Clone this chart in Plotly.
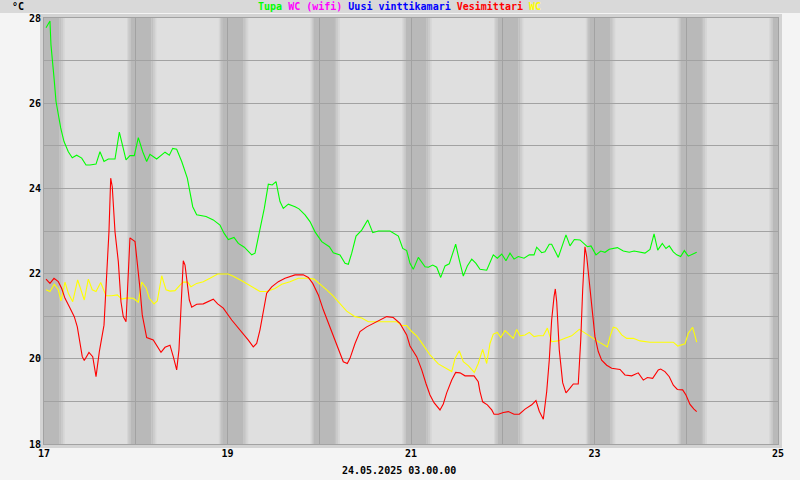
import plotly.graph_objects as go

# ---- data (day of May 2025, °C) ----
tupa_t = [17.022, 17.065, 17.076, 17.095, 17.109, 17.131, 17.156, 17.182, 17.218, 17.265, 17.308, 17.356,
          17.411, 17.458, 17.501, 17.567, 17.610, 17.654, 17.701, 17.774, 17.821, 17.858, 17.894, 17.937,
          17.984, 18.028, 18.076, 18.119, 18.155, 18.228, 18.283, 18.319, 18.366, 18.403, 18.446, 18.501,
          18.562, 18.591, 18.621, 18.664, 18.766, 18.845, 18.918, 18.962, 19.009, 19.071, 19.118, 19.183,
          19.264, 19.300, 19.354, 19.401, 19.445, 19.488, 19.529, 19.572, 19.608, 19.663, 19.736, 19.779,
          19.845, 19.899, 19.954, 20.027, 20.110, 20.153, 20.226, 20.281, 20.317, 20.354, 20.401, 20.463,
          20.528, 20.583, 20.644, 20.771, 20.862, 20.910, 20.953, 20.989, 21.025, 21.080, 21.153, 21.189,
          21.237, 21.280, 21.324, 21.371, 21.417, 21.487, 21.526, 21.570, 21.614, 21.662, 21.708, 21.752,
          21.825, 21.897, 21.941, 21.989, 22.035, 22.079, 22.123, 22.169, 22.232, 22.289, 22.341, 22.370,
          22.424, 22.460, 22.507, 22.533, 22.605, 22.653, 22.689, 22.733, 22.780, 22.842, 22.878, 22.922,
          22.962, 23.016, 23.068, 23.114, 23.161, 23.249, 23.314, 23.379, 23.431, 23.496, 23.550, 23.605,
          23.649, 23.689, 23.739, 23.779, 23.815, 23.859, 23.896, 23.939, 23.979, 24.022, 24.070, 24.114]
tupa_v = [27.77, 27.93, 27.37, 26.97, 26.60, 26.04, 25.72, 25.42, 25.10, 24.86, 24.72, 24.78,
          24.71, 24.55, 24.55, 24.57, 24.86, 24.63, 24.69, 24.69, 25.32, 25.02, 24.67, 24.77,
          24.77, 25.19, 24.86, 24.63, 24.80, 24.69, 24.78, 24.85, 24.78, 24.94, 24.92, 24.63,
          24.24, 23.88, 23.57, 23.38, 23.34, 23.26, 23.14, 22.95, 22.80, 22.85, 22.71, 22.62,
          22.44, 22.48, 23.02, 23.53, 24.10, 24.08, 24.16, 23.69, 23.53, 23.63, 23.57, 23.52,
          23.38, 23.22, 22.98, 22.75, 22.63, 22.49, 22.44, 22.24, 22.22, 22.48, 22.88, 23.02,
          23.26, 22.96, 23.00, 23.00, 22.88, 22.59, 22.54, 22.24, 22.10, 22.38, 22.16, 22.15,
          22.20, 22.15, 21.91, 22.18, 22.23, 22.69, 22.32, 21.94, 22.18, 22.34, 22.24, 22.10,
          22.08, 22.44, 22.36, 22.46, 22.30, 22.48, 22.34, 22.40, 22.36, 22.44, 22.44, 22.62,
          22.49, 22.51, 22.69, 22.69, 22.38, 22.67, 22.91, 22.65, 22.80, 22.79, 22.71, 22.63,
          22.65, 22.44, 22.53, 22.50, 22.57, 22.61, 22.53, 22.50, 22.53, 22.50, 22.48, 22.57,
          22.93, 22.55, 22.71, 22.59, 22.65, 22.51, 22.44, 22.40, 22.54, 22.41, 22.46, 22.50]

vesi_t = [17.022, 17.065, 17.109, 17.156, 17.193, 17.229, 17.283, 17.330, 17.363, 17.392, 17.417, 17.439,
          17.490, 17.531, 17.567, 17.603, 17.654, 17.683, 17.708, 17.727, 17.744, 17.774, 17.810, 17.839,
          17.864, 17.894, 17.908, 17.937, 17.992, 18.017, 18.046, 18.071, 18.119, 18.191, 18.235, 18.275,
          18.319, 18.373, 18.409, 18.446, 18.471, 18.493, 18.518, 18.537, 18.566, 18.584, 18.610, 18.664,
          18.736, 18.784, 18.845, 18.893, 18.954, 19.046, 19.155, 19.227, 19.281, 19.318, 19.354, 19.390,
          19.427, 19.482, 19.554, 19.627, 19.717, 19.736, 19.826, 19.881, 19.929, 19.990, 20.044, 20.117,
          20.190, 20.262, 20.306, 20.335, 20.390, 20.444, 20.517, 20.608, 20.681, 20.735, 20.807, 20.880,
          20.953, 20.989, 21.062, 21.117, 21.163, 21.207, 21.251, 21.316, 21.352, 21.389, 21.444, 21.487,
          21.534, 21.589, 21.687, 21.733, 21.752, 21.781, 21.832, 21.880, 21.905, 21.952, 22.006, 22.061,
          22.123, 22.180, 22.243, 22.316, 22.362, 22.398, 22.442, 22.479, 22.507, 22.533, 22.559, 22.573,
          22.588, 22.616, 22.653, 22.689, 22.733, 22.769, 22.823, 22.850, 22.871, 22.896, 22.915, 22.943,
          22.969, 23.005, 23.041, 23.078, 23.133, 23.187, 23.278, 23.332, 23.405, 23.477, 23.532, 23.576,
          23.634, 23.695, 23.721, 23.768, 23.815, 23.859, 23.903, 23.961, 23.997, 24.041, 24.084, 24.114]
vesi_v = [21.87, 21.77, 21.89, 21.81, 21.65, 21.42, 21.19, 20.99, 20.75, 20.32, 20.05, 19.96,
          20.15, 20.05, 19.58, 20.17, 20.79, 21.97, 22.98, 24.24, 24.04, 22.98, 22.28, 21.34,
          20.99, 20.87, 21.50, 22.84, 22.75, 22.28, 21.65, 21.03, 20.50, 20.44, 20.30, 20.15,
          20.27, 20.32, 20.05, 19.74, 20.21, 21.15, 22.30, 22.20, 21.65, 21.38, 21.21, 21.28,
          21.29, 21.34, 21.40, 21.29, 21.19, 20.91, 20.64, 20.44, 20.28, 20.36, 20.68, 21.15,
          21.54, 21.69, 21.81, 21.89, 21.95, 21.97, 21.97, 21.91, 21.77, 21.50, 21.15, 20.75,
          20.36, 19.93, 19.89, 20.01, 20.36, 20.64, 20.75, 20.85, 20.95, 20.99, 20.97, 20.83,
          20.56, 20.30, 20.05, 19.74, 19.42, 19.15, 18.97, 18.80, 18.94, 19.20, 19.50, 19.68,
          19.67, 19.60, 19.60, 19.46, 19.23, 18.99, 18.92, 18.80, 18.70, 18.70, 18.74, 18.76,
          18.70, 18.70, 18.82, 18.92, 19.02, 18.77, 18.58, 19.23, 19.97, 20.91, 21.46, 21.64,
          21.34, 20.21, 19.44, 19.20, 19.31, 19.41, 19.41, 20.44, 21.61, 22.63, 22.40, 21.77,
          21.15, 20.52, 20.17, 19.97, 19.85, 19.78, 19.75, 19.62, 19.60, 19.67, 19.50, 19.56,
          19.54, 19.74, 19.76, 19.70, 19.58, 19.38, 19.28, 19.27, 19.15, 18.93, 18.82, 18.76]

wc_t = [17.022, 17.065, 17.112, 17.156, 17.185, 17.229, 17.265, 17.313, 17.367, 17.400, 17.439, 17.483,
        17.526, 17.567, 17.618, 17.676, 17.738, 17.799, 17.847, 17.908, 17.973, 18.028, 18.065, 18.112,
        18.148, 18.199, 18.235, 18.283, 18.330, 18.373, 18.428, 18.482, 18.518, 18.566, 18.602, 18.664,
        18.736, 18.809, 18.893, 19.009, 19.063, 19.155, 19.245, 19.354, 19.427, 19.518, 19.591, 19.681,
        19.772, 19.881, 19.943, 20.008, 20.081, 20.153, 20.226, 20.299, 20.390, 20.463, 20.535, 20.644,
        20.844, 20.899, 20.953, 21.008, 21.062, 21.134, 21.207, 21.298, 21.389, 21.444, 21.480, 21.526,
        21.570, 21.624, 21.690, 21.733, 21.781, 21.825, 21.861, 21.897, 21.941, 21.978, 22.025, 22.079,
        22.115, 22.152, 22.188, 22.243, 22.289, 22.341, 22.387, 22.442, 22.486, 22.533, 22.605, 22.678,
        22.751, 22.834, 22.915, 22.987, 23.060, 23.140, 23.169, 23.205, 23.242, 23.296, 23.351, 23.423,
        23.496, 23.605, 23.714, 23.859, 23.907, 23.950, 23.986, 24.022, 24.070, 24.114]
wc_v = [21.62, 21.58, 21.75, 21.62, 21.36, 21.80, 21.54, 21.34, 21.85, 21.65, 21.38, 21.87,
        21.62, 21.58, 21.79, 21.48, 21.48, 21.50, 21.40, 21.43, 21.42, 21.33, 21.80, 21.67,
        21.42, 21.29, 21.36, 21.95, 21.62, 21.59, 21.60, 21.73, 21.80, 21.80, 21.69, 21.77,
        21.81, 21.89, 21.99, 21.99, 21.94, 21.83, 21.71, 21.58, 21.58, 21.65, 21.75, 21.81,
        21.89, 21.89, 21.87, 21.76, 21.62, 21.47, 21.30, 21.12, 20.99, 20.96, 20.87, 20.87,
        20.87, 20.78, 20.78, 20.64, 20.54, 20.32, 20.09, 19.88, 19.76, 19.70, 20.01, 20.19,
        19.93, 19.84, 19.68, 19.89, 20.22, 19.89, 20.36, 20.58, 20.62, 20.50, 20.66, 20.56,
        20.48, 20.69, 20.54, 20.56, 20.62, 20.52, 20.54, 20.54, 20.72, 20.40, 20.42, 20.48,
        20.54, 20.69, 20.57, 20.48, 20.38, 20.28, 20.52, 20.74, 20.72, 20.56, 20.48, 20.48,
        20.42, 20.39, 20.39, 20.39, 20.30, 20.32, 20.35, 20.60, 20.74, 20.39]

legend_names = ["Tupa", "WC (wifi)", "Uusi vinttikamari", "Vesimittari", "WC"]
legend_colors = ["#00ff00", "#ff00ff", "#0000ff", "#ff0000", "#ffff00"]

x_ticks = [17, 18, 19, 20, 21, 22, 23, 24, 25]
x_ticktext = ["17", "", "19", "", "21", "", "23", "", "25"]
y_ticks = [18, 19, 20, 21, 22, 23, 24, 25, 26, 27, 28]
y_ticktext = ["18", "", "20", "", "22", "", "24", "", "26", "", "28"]
night_centers = [17, 18, 19, 20, 21, 22, 23, 24, 25]
timestamp = "24.05.2025 03.00.00"

# ---- styling ----
FONT = "DejaVu Sans Mono"
PLOT_BG = "#dfdfdf"
BAND = "#b9b9b9"
GRID = "#a2a2a2"
L, R, T, B = 44, 22, 18, 36
W, H = 800, 480
pw, ph = W - L - R, H - T - B

def px_x(p):
    return (p - L) / pw

def px_y(p):
    return (H - B - p) / ph

shapes = []
# top strip
shapes.append(dict(type="rect", xref="paper", yref="paper", layer="below",
                   x0=px_x(0), x1=px_x(W), y0=px_y(13), y1=px_y(0),
                   fillcolor="#d9d9d9", line=dict(width=0)))
# frame
shapes.append(dict(type="rect", xref="paper", yref="paper", layer="below",
                   x0=px_x(40), x1=px_x(782), y0=px_y(448), y1=px_y(14),
                   fillcolor="#d3d3d3", line=dict(width=0)))
# plot area
shapes.append(dict(type="rect", xref="paper", yref="paper", layer="below",
                   x0=0, x1=1, y0=0, y1=1, fillcolor=PLOT_BG, line=dict(width=0)))

# night bands with soft edges
grad_in = ["#d6d6d6", "#cbcbcb", "#c1c1c1"]
for d in night_centers:
    a0, a1 = d - 0.095, d - 0.058
    b0, b1 = d + 0.171, d + 0.226
    shapes.append(dict(type="rect", xref="x", yref="paper", layer="below",
                       x0=a1, x1=b0, y0=0, y1=1, fillcolor=BAND, line=dict(width=0)))
    n = len(grad_in)
    for i, c in enumerate(grad_in):
        shapes.append(dict(type="rect", xref="x", yref="paper", layer="below",
                           x0=a0 + (a1 - a0) * i / n, x1=a0 + (a1 - a0) * (i + 1) / n,
                           y0=0, y1=1, fillcolor=c, line=dict(width=0)))
        shapes.append(dict(type="rect", xref="x", yref="paper", layer="below",
                           x0=b1 - (b1 - b0) * (i + 1) / n, x1=b1 - (b1 - b0) * i / n,
                           y0=0, y1=1, fillcolor=c, line=dict(width=0)))

fig = go.Figure()
fig.add_trace(go.Scatter(x=wc_t, y=wc_v, mode="lines", name="WC",
                         line=dict(color="#ffff00", width=1.1)))
fig.add_trace(go.Scatter(x=vesi_t, y=vesi_v, mode="lines", name="Vesimittari",
                         line=dict(color="#ff0000", width=1.1)))
fig.add_trace(go.Scatter(x=tupa_t, y=tupa_v, mode="lines", name="Tupa",
                         line=dict(color="#00ff00", width=1.1)))

legend_html = " ".join(
    f'<span style="color:{c}">{n}</span>' for n, c in zip(legend_names, legend_colors))

annotations = [
    dict(text=legend_html, xref="paper", yref="paper", x=px_x(399), y=px_y(6),
         xanchor="center", yanchor="middle", showarrow=False,
         font=dict(family=FONT, size=10, weight="bold")),
    dict(text="°C", xref="paper", yref="paper", x=px_x(10), y=px_y(6),
         xanchor="left", yanchor="middle", showarrow=False,
         font=dict(family=FONT, size=10, color="#000000", weight="bold")),
    dict(text=timestamp, xref="paper", yref="paper", x=px_x(399), y=px_y(471),
         xanchor="center", yanchor="middle", showarrow=False,
         font=dict(family=FONT, size=10, color="#000000", weight="bold")),
]

fig.update_layout(
    width=W, height=H,
    margin=dict(l=L, r=R, t=T, b=B, pad=0),
    paper_bgcolor="#f4f4f4",
    plot_bgcolor="rgba(0,0,0,0)",
    showlegend=False,
    hovermode=False,
    shapes=shapes,
    annotations=annotations,
    font=dict(family=FONT, size=10, color="#000000", weight="bold"),
    xaxis=dict(range=[17, 25], tickvals=x_ticks, ticktext=x_ticktext,
               showgrid=True, gridcolor=GRID, gridwidth=1, zeroline=False,
               showline=True, linecolor=GRID, mirror=True, ticks="",
               tickfont=dict(family=FONT, size=10, color="#000000", weight="bold")),
    yaxis=dict(range=[18, 28], tickvals=y_ticks, ticktext=y_ticktext,
               showgrid=True, gridcolor=GRID, gridwidth=1, zeroline=False,
               showline=True, linecolor=GRID, mirror=True, ticks="",
               tickfont=dict(family=FONT, size=10, color="#000000", weight="bold")),
)

fig.write_html(
    "out.html",
    config={"displayModeBar": False, "staticPlot": True},
    post_script="document.body.style.margin='0';document.body.style.overflow='hidden';",
)
